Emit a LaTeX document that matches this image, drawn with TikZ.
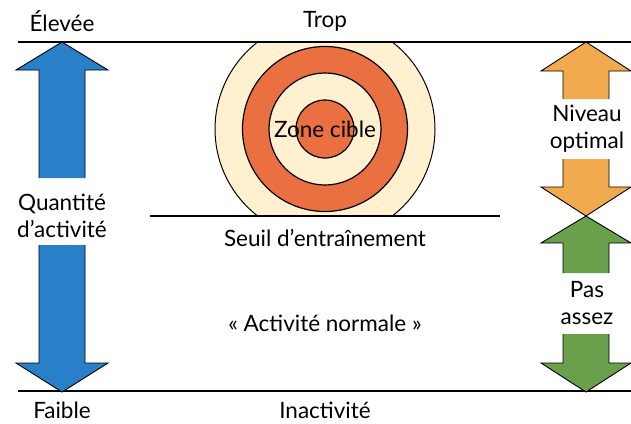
\documentclass[tikz,border=0pt]{standalone}
\usepackage{fontspec}
\setmainfont{Lato}
\definecolor{ablue}{RGB}{42,128,200}
\definecolor{aorange}{RGB}{242,170,78}
\definecolor{agreen}{RGB}{106,160,76}
\definecolor{torange}{RGB}{234,112,66}
\definecolor{tcream}{RGB}{255,240,208}
\tikzset{
  lbl/.style={font=\fontsize{22.5}{27}\selectfont, inner sep=0pt, align=center},
  rule/.style={line width=2pt},
  ring/.style={draw=black, line width=1.2pt},
}
\newcommand{\uparr}[7]{% color, cx, tip, headbase, hw, sw, shaftend
  \fill[#1] (#2,#3) -- ({#2+#5},#4) -- ({#2+#6},#4) -- ({#2+#6},#7) -- ({#2-#6},#7) -- ({#2-#6},#4) -- ({#2-#5},#4) -- cycle;
  \draw[line width=0.9pt, line join=miter] ({#2-#6},#7) -- ({#2-#6},#4) -- ({#2-#5},#4) -- (#2,#3) -- ({#2+#5},#4) -- ({#2+#6},#4) -- ({#2+#6},#7);
}
\begin{document}
\begin{tikzpicture}[x=1pt,y=-1pt]
\useasboundingbox (0,0) rectangle (631,423);
% target
\begin{scope}
\clip (150,42) rectangle (500,216);
\fill[tcream] (325,129) circle (110);
\draw[line width=1pt] (325,129) circle (110);
\end{scope}
\fill[torange] (325,129) circle (82.5);
\draw[ring] (325,129) circle (82.5);
\fill[tcream] (325,129) circle (56);
\draw[ring] (325,129) circle (56);
\fill[torange] (325,129) circle (29);
\draw[ring] (325,129) circle (29);
% rules
\coordinate (tl) at (18,42); \coordinate (tr) at (631,42);
\coordinate (bl) at (18,391); \coordinate (br) at (631,391);
\coordinate (sl) at (150,216); \coordinate (sr) at (500,216);
\draw[rule] (tl) -- (tr);
\draw[rule] (bl) -- (br);
\draw[rule] (sl) -- (sr);
% arrows
\uparr{ablue}{62}{42}{70}{46}{23}{178}
\uparr{ablue}{62}{392}{363}{46}{23}{245}
\uparr{aorange}{586}{42}{71}{45}{23}{99}
\uparr{aorange}{586}{216}{187}{45}{23}{159}
\uparr{agreen}{586}{216}{243}{45}{23}{273}
\uparr{agreen}{586}{392}{363}{45}{23}{334}
% labels
\node[lbl] (elev) at (62,21) {Élevée};
\node[lbl] (trop) at (325,21) {Trop};
\node[lbl] (zone) at (325,129) {Zone cible};
\node[lbl] (niv) at (587,129) {Niveau\\optimal};
\node[lbl] (qte) at (62,216) {Quantité\\d’activité};
\node[lbl] (seuil) at (325,238) {Seuil d’entraînement};
\node[lbl] (norm) at (325,323) {« Activité normale »};
\node[lbl] (pas) at (587,303) {Pas\\assez};
\node[lbl] (faib) at (62,410) {Faible};
\node[lbl] (inact) at (325,410) {Inactivité};
\end{tikzpicture}
\end{document}
